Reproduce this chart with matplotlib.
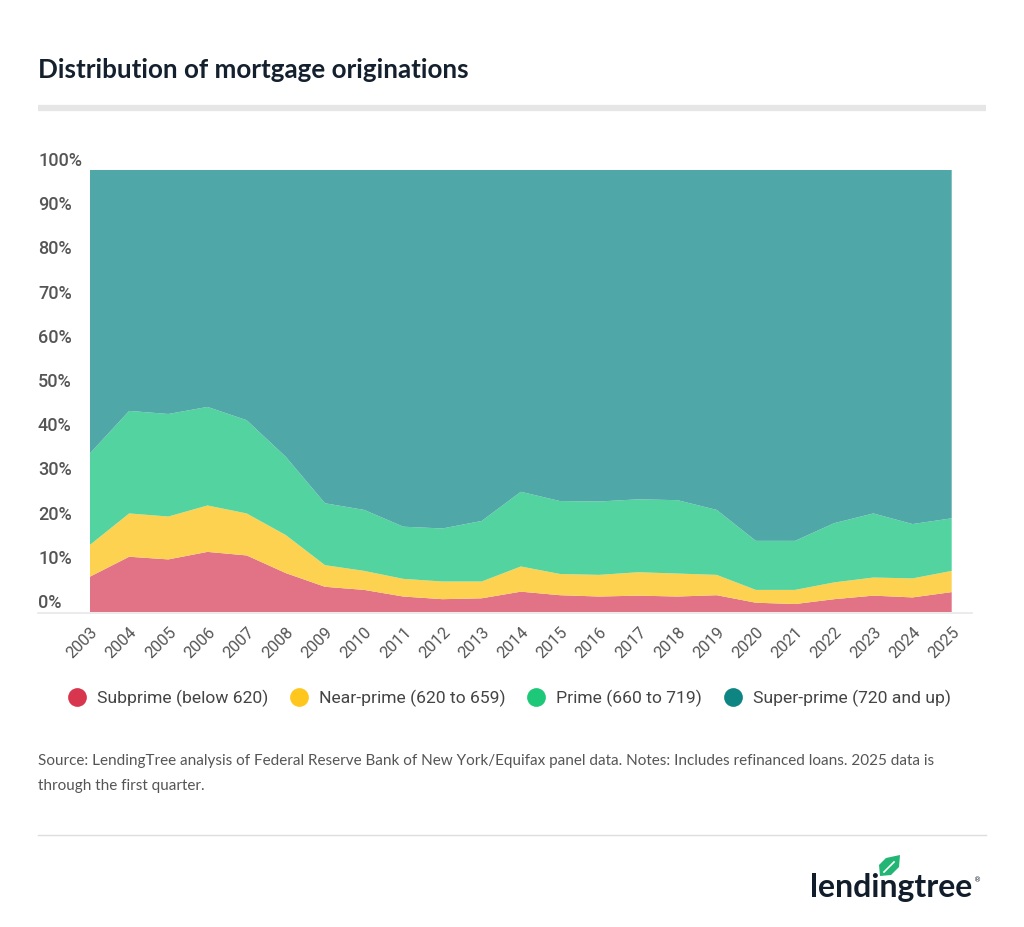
"""Distribution of mortgage originations, stacked area chart"""

import matplotlib
matplotlib.use("Agg")
import matplotlib.pyplot as plt
from matplotlib.lines import Line2D
from matplotlib.patches import Polygon
from matplotlib.transforms import blended_transform_factory, ScaledTranslation

# shares of originations by credit score band, in percent
years = list(range(2003, 2026))
subprime = [8.0, 12.5, 11.9, 13.6, 12.8, 8.8, 5.7, 5.0, 3.5, 2.9, 3.1, 4.6,
            3.8, 3.5, 3.7, 3.5, 3.8, 2.1, 1.8, 2.9, 3.7, 3.3, 4.5]
near_prime = [7.2, 9.8, 9.7, 10.5, 9.5, 8.6, 4.9, 4.3, 4.0, 4.0, 3.8, 5.7,
              4.8, 4.9, 5.3, 5.2, 4.6, 2.9, 3.2, 3.8, 4.1, 4.3, 4.8]
prime = [20.7, 23.2, 23.2, 22.3, 21.1, 17.7, 14.0, 13.8, 11.8, 12.0, 13.7,
         16.9, 16.5, 16.6, 16.5, 16.6, 14.7, 11.1, 11.1, 13.4, 14.5, 12.3,
         11.9]
super_prime = [64.1, 54.5, 55.2, 53.6, 56.6, 64.9, 75.4, 76.9, 80.7, 81.1,
               79.4, 72.8, 74.9, 75.0, 74.5, 74.7, 76.9, 83.9, 83.9, 79.9,
               77.7, 80.1, 78.8]
series_labels = ["Subprime (below 620)", "Near-prime (620 to 659)",
                 "Prime (660 to 719)", "Super-prime (720 and up)"]
y_ticks = [0, 10, 20, 30, 40, 50, 60, 70, 80, 90, 100]

area_colors = ["#E27285", "#FDD251", "#53D39F", "#50A7A8"]
dot_colors = ["#D8354F", "#FFC61E", "#1DC878", "#0E8582"]

W, H = 1024, 927
fig = plt.figure(figsize=(W / 100, H / 100), dpi=100)
fig.patch.set_facecolor("white")

ax = fig.add_axes([90 / W, 315 / H, 861.7 / W, 442 / H])
ax.stackplot(years, subprime, near_prime, prime, super_prime,
             colors=area_colors, linewidth=0)
ax.set_xlim(2003, 2025)
ax.set_ylim(0, 100)
for s in ax.spines.values():
    s.set_visible(False)
ax.set_yticks([])
ax.set_xticks(years)
ax.set_xticklabels([str(y) for y in years], rotation=45, ha="right",
                   va="top", rotation_mode="anchor", fontsize=11.8,
                   family="Roboto", color="#555555")
ax.tick_params(axis="x", length=0, pad=9)

# y labels sit at the left edge, a bit above their value
ylab_tr = blended_transform_factory(fig.transFigure, ax.transData) + \
    ScaledTranslation(0, 9 / 100, fig.dpi_scale_trans)
for t in y_ticks:
    ax.text(38 / W, t, f"{t}%", transform=ylab_tr, ha="left", va="center",
            fontsize=13, family="Roboto", fontweight="medium",
            color="#555555", clip_on=False)

# baseline
fig.add_artist(Line2D([38 / W, 972 / W], [1 - 612.5 / H, 1 - 612.5 / H],
                      color="#e8e8e8", lw=1.2))

# title and rule
fig.text(38 / W, 1 - 70 / H, "Distribution of mortgage originations",
         fontsize=18.7, family="Lato", fontweight="bold", color="#14202e",
         va="center", ha="left")
fig.add_artist(Line2D([38 / W, 986 / W], [1 - 108 / H, 1 - 108 / H],
                      color="#e6e6e6", lw=4.5, solid_capstyle="butt"))

# legend
handles = [Line2D([], [], marker="o", linestyle="none", markersize=13.5,
                  markerfacecolor=c, markeredgewidth=0) for c in dot_colors]
fig.legend(handles, series_labels, loc="center", ncol=4,
           bbox_to_anchor=(509 / W, 1 - 698 / H), frameon=False,
           prop={"family": "Roboto", "size": 12.6}, labelcolor="#444444",
           handlelength=1.1, handletextpad=0.6, columnspacing=1.2,
           borderaxespad=0)

# footnote
fig.text(38 / W, 1 - 761 / H,
         "Source: LendingTree analysis of Federal Reserve Bank of New "
         "York/Equifax panel data. Notes: Includes refinanced loans. 2025 "
         "data is", fontsize=11, family="Lato", color="#555555",
         va="center", ha="left")
fig.text(38 / W, 1 - 786 / H, "through the first quarter.", fontsize=11,
         family="Lato", color="#555555", va="center", ha="left")
fig.add_artist(Line2D([38 / W, 986 / W], [1 - 835 / H, 1 - 835 / H],
                      color="#dddddd", lw=1))

# logo
fig.text(972 / W, 1 - 888 / H, "lendingtree", fontsize=23, family="Lato",
         fontweight="bold", color="#111d2b", ha="right", va="center")
fig.text(978 / W, 1 - 880 / H, "®", fontsize=5, family="DejaVu Sans",
         color="#111d2b", ha="center", va="center")
leaf = [(880, 876), (879, 865), (886, 858), (900, 855), (899, 867),
        (891, 875)]
fig.add_artist(Polygon([(x / W, 1 - y / H) for x, y in leaf], closed=True,
                       facecolor="#22b573", edgecolor="none",
                       transform=fig.transFigure))
fig.add_artist(Line2D([884 / W, 894 / W], [1 - 872 / H, 1 - 862 / H],
                      color="white", lw=1.2))

fig.savefig("out.png", dpi=100, facecolor="white")
